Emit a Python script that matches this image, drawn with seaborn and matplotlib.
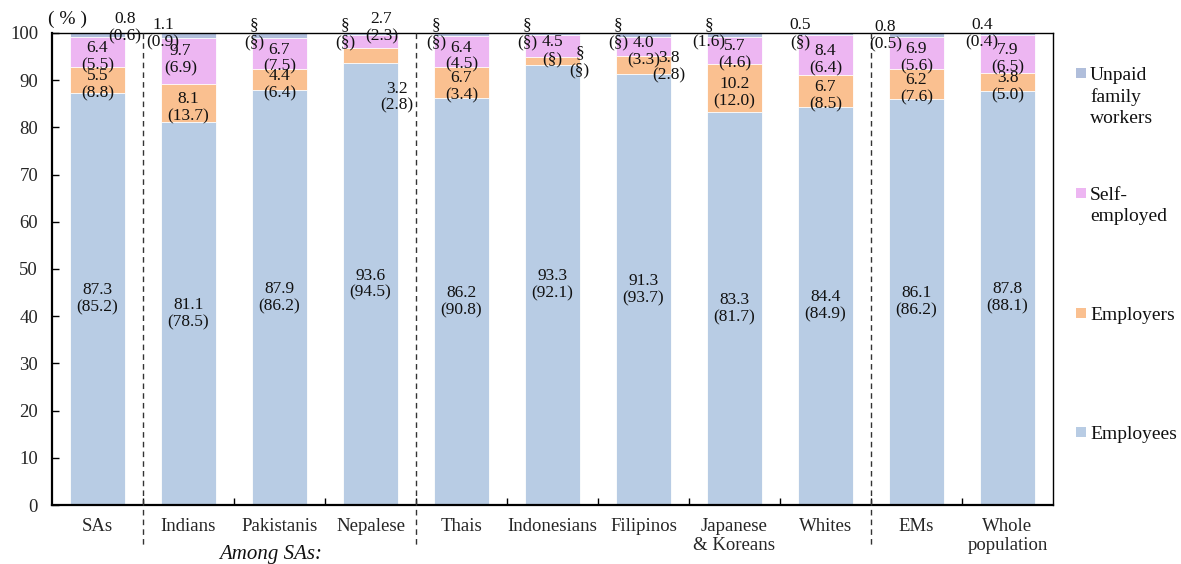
import numpy as np
import pandas as pd
import matplotlib
matplotlib.use("Agg")
import matplotlib.pyplot as plt
from matplotlib.patches import Rectangle
import seaborn as sns

# ---- data -------------------------------------------------------------
groups = ["SAs", "Indians", "Pakistanis", "Nepalese", "Thais", "Indonesians",
          "Filipinos", "Japanese\n& Koreans", "Whites", "EMs", "Whole\npopulation"]

# 2016 shares (%) -- these build the stacked bars
employees = [87.3, 81.1, 87.9, 93.6, 86.2, 93.3, 91.3, 83.3, 84.4, 86.1, 87.8]
employers = [5.5, 8.1, 4.4, 3.2, 6.7, 1.7, 3.8, 10.2, 6.7, 6.2, 3.8]
self_employed = [6.4, 9.7, 6.7, 2.7, 6.4, 4.5, 4.0, 5.7, 8.4, 6.9, 7.9]
unpaid = [0.8, 1.1, 1.0, 0.5, 0.7, 0.5, 0.9, 0.8, 0.5, 0.8, 0.4]

# 2011 shares (%) -- printed in brackets; None = too small to release
employees_2011 = [85.2, 78.5, 86.2, 94.5, 90.8, 92.1, 93.7, 81.7, 84.9, 86.2, 88.1]
employers_2011 = [8.8, 13.7, 6.4, 2.8, 3.4, None, 2.8, 12.0, 8.5, 7.6, 5.0]
self_employed_2011 = [5.5, 6.9, 7.5, 2.3, 4.5, None, 3.3, 4.6, 6.4, 5.6, 6.5]
unpaid_2011 = [0.6, 0.9, None, None, None, None, None, 1.6, None, 0.5, 0.4]

# 2016 cells too small to release (printed as a section sign)
suppressed_2016 = {
    "Employers": ["Indonesians"],
    "Unpaid family workers": ["Pakistanis", "Nepalese", "Thais", "Indonesians",
                              "Filipinos", "Japanese\n& Koreans"],
}

series = ["Employees", "Employers", "Self-employed", "Unpaid family workers"]
legend_labels = ["Employees", "Employers", "Self-\nemployed", "Unpaid\nfamily\nworkers"]
colors = ["#B8CCE4", "#FAC090", "#EDB6F2", "#B0BEDB"]

values_2016 = [employees, employers, self_employed, unpaid]
values_2011 = [employees_2011, employers_2011, self_employed_2011, unpaid_2011]

# ---- styling ----------------------------------------------------------
sns.set_theme(style="white")
plt.rcParams["font.family"] = ["Liberation Serif", "DejaVu Serif"]
plt.rcParams["text.color"] = "#111111"

fig = plt.figure(figsize=(11.81, 5.64), dpi=100)
ax = fig.add_axes([0.044, 0.1046, 0.8476, 0.8369])

# ---- stacked bars (cumulative totals drawn from the top layer down) ---
df = pd.DataFrame({"group": groups})
cum = np.zeros(len(groups))
for name, vals in zip(series, values_2016):
    cum = cum + np.array(vals)
    df[name] = cum.copy()

for name, col in zip(series[::-1], colors[::-1]):
    sns.barplot(data=df, x="group", y=name, order=groups, color=col,
                saturation=1, width=0.6, edgecolor="white", linewidth=0.6,
                ax=ax, zorder=2)

# ---- value labels -----------------------------------------------------
def fmt(v):
    return "§" if v is None else f"{v:.1f}"

# label anchors that sit outside the default spot (dx in category units, y in %)
label_anchor = {
    ("Unpaid family workers", "SAs"): (0.30, 101.2),
    ("Self-employed", "Nepalese"): (0.12, 101.2),
    ("Employers", "Nepalese"): (0.29, 86.4),
    ("Employers", "Indonesians"): (0.30, 94.0),
    ("Employers", "Filipinos"): (0.28, 92.8),
    ("Self-employed", "Indians"): (-0.09, 94.4),
    ("Unpaid family workers", "EMs"): (-0.34, 99.4),
}

for s_idx, name in enumerate(series):
    for i, g in enumerate(groups):
        bottom = sum(values_2016[k][i] for k in range(s_idx))
        h = values_2016[s_idx][i]
        cur = None if g in suppressed_2016.get(name, []) else h
        text = f"{fmt(cur)}\n({fmt(values_2011[s_idx][i])})"
        if (name, g) in label_anchor:
            dx, y = label_anchor[(name, g)]
        elif name == "Unpaid family workers":
            dx, y = -0.28, 99.8
        elif name == "Employees":
            dx, y = 0.0, h / 2
        else:
            dx, y = 0.0, bottom + h / 2 - 1.0
        ax.text(i + dx, y, text, ha="center", va="center", multialignment="center",
                fontsize=12.5, linespacing=1.1, zorder=5, clip_on=False)

# ---- axes -------------------------------------------------------------
ax.set_xlim(-0.5, len(groups) - 0.5)
ax.set_ylim(0, 100)
ax.set_yticks(np.arange(0, 101, 10))
ax.set_xlabel("")
ax.set_ylabel("")
ax.set_xticks(range(len(groups)))
ax.set_xticklabels(groups, fontsize=13.5, linespacing=1.2)
ax.set_xticks(np.arange(0.5, len(groups) - 0.5, 1), minor=True)
ax.tick_params(axis="x", which="major", length=0, pad=9)
ax.tick_params(axis="x", which="minor", direction="in", length=5, width=1,
               color="black", bottom=True)
ax.tick_params(axis="y", which="major", direction="in", length=5, width=1,
               color="black", labelsize=13.5, pad=10, left=True)
for side in ["left", "bottom"]:
    ax.spines[side].set_linewidth(1.6)
    ax.spines[side].set_color("black")
for side in ["top", "right"]:
    ax.spines[side].set_linewidth(1.0)
    ax.spines[side].set_color("black")
    ax.spines[side].set_visible(True)
ax.grid(False)

# dashed group separators running below the axis
for xs in [0.5, 3.5, 8.5]:
    ax.plot([xs, xs], [100, -8.5], ls=(0, (4, 3)), color="#333333", lw=1.0,
            clip_on=False, zorder=4)

ax.text(2 - 0.1, -10.5, "Among SAs:", ha="center", va="center", fontsize=15,
        style="italic", clip_on=False)
fig.text(68 / 1181, 1 - 19 / 564, "( % )", ha="center", va="center", fontsize=14)

# ---- legend (right side, spread out) ----------------------------------
legend_y = [432, 313, 193, 73]  # pixel rows of the swatches, bottom to top
for lab, col, py in zip(legend_labels, colors, legend_y):
    fy = 1 - py / 564
    fig.add_artist(Rectangle((1076 / 1181, fy - 5 / 564), 10 / 1181, 10 / 564,
                             transform=fig.transFigure, facecolor=col, edgecolor="none"))
    fig.text(1090 / 1181, fy + 6 / 564, lab, ha="left", va="top", fontsize=14,
             linespacing=1.3)

fig.savefig("out.png", dpi=100)
